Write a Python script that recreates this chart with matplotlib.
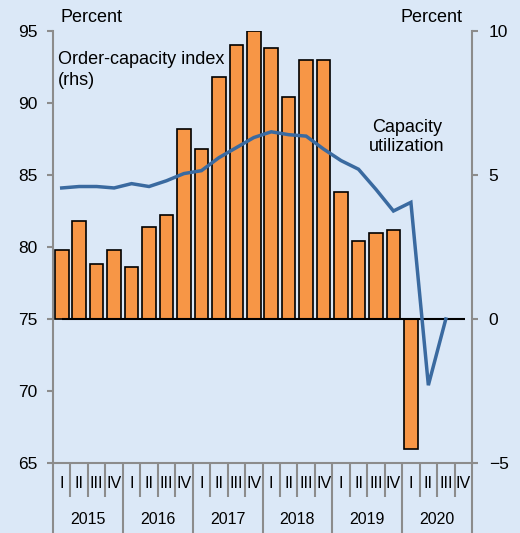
import numpy as np
import matplotlib.pyplot as plt
from matplotlib.transforms import blended_transform_factory

plt.rcParams['font.family'] = ['Liberation Sans', 'DejaVu Sans']

years = ['2015', '2016', '2017', '2018', '2019', '2020']
quarters = ['I', 'II', 'III', 'IV']

# Order-capacity index (rhs), None = no data
order_capacity = [2.4, 3.4, 1.9, 2.4, 1.8, 3.2, 3.6, 6.6,
                  5.9, 8.4, 9.5, 10.0, 9.4, 7.7, 9.0, 9.0,
                  4.4, 2.7, 3.0, 3.1, -4.5, None, None, None]

# Capacity utilization (lhs)
capacity_util = [84.1, 84.2, 84.2, 84.1, 84.4, 84.2, 84.6, 85.1,
                 85.3, 86.2, 86.9, 87.6, 88.0, 87.8, 87.7, 86.8,
                 86.0, 85.4, 84.0, 82.5, 83.1, 70.4, 75.0, None]

bg = '#dbe8f7'
grey = '#8c8c8c'
bar_col = '#f79646'
line_col = '#3a6aa0'

fig = plt.figure(figsize=(5.2, 5.33), dpi=100, facecolor=bg)
ax = fig.add_axes([53/520, 1-463/533, 419/520, 432/533])
ax2 = ax.twinx()

n = len(order_capacity)
x = np.arange(n) + 0.5

bx = [xi for xi, v in zip(x, order_capacity) if v is not None]
bv = [v for v in order_capacity if v is not None]
ax2.bar(bx, bv, width=0.78, color=bar_col, edgecolor='black', linewidth=1.2)
ax2.hlines(0, 0.5, 23.6, color='black', linewidth=1.5)
ax2.set_ylim(-5, 10)
ax2.set_yticks([-5, 0, 5, 10])

lx = [xi for xi, v in zip(x, capacity_util) if v is not None]
lv = [v for v in capacity_util if v is not None]
ax.plot(lx, lv, color=line_col, linewidth=2.5, solid_joinstyle='miter')
ax.set_ylim(65, 95)
ax.set_yticks([65, 70, 75, 80, 85, 90, 95])
ax.set_xlim(0, n)

ax.set_zorder(ax2.get_zorder() + 1)
ax.patch.set_visible(False)
ax2.patch.set_visible(False)

for a in (ax, ax2):
    for s in a.spines.values():
        s.set_visible(False)
ax.spines['left'].set_visible(True)
ax.spines['left'].set_color(grey)
ax.spines['left'].set_linewidth(1.5)
ax.spines['bottom'].set_visible(True)
ax.spines['bottom'].set_color(grey)
ax.spines['bottom'].set_linewidth(1.5)
ax2.spines['right'].set_visible(True)
ax2.spines['right'].set_color(grey)
ax2.spines['right'].set_linewidth(1.5)

ax.tick_params(axis='y', direction='out', length=4, width=1.5, color=grey,
               labelsize=12.5, pad=7)
ax2.tick_params(axis='y', direction='out', length=4, width=1.5, color=grey,
                labelsize=12.5, pad=8)

# quarter and year separators below the axis
ax.set_xticks(np.arange(0, n + 1, 4))
ax.set_xticks(np.arange(0, n + 1), minor=True)
ax.tick_params(axis='x', which='major', direction='out', length=51, width=1.5,
               color=grey, labelbottom=False)
ax.tick_params(axis='x', which='minor', direction='out', length=24.5, width=1.5,
               color=grey, labelbottom=False)

tr = blended_transform_factory(ax.transData, ax.transAxes)
for i in range(n):
    ax.text(x[i], -0.047, quarters[i % 4], transform=tr, ha='center',
            va='center', fontsize=11.5, clip_on=False)
for j, yr in enumerate(years):
    ax.text(j * 4 + 2, -0.131, yr, transform=tr, ha='center', va='center',
            fontsize=11.5, clip_on=False)

fig.text(92/520, 1-17/533, 'Percent', ha='center', va='center', fontsize=13)
fig.text(432/520, 1-17/533, 'Percent', ha='center', va='center', fontsize=13)
fig.text(58/520, 1-51/533, 'Order-capacity index\n(rhs)', ha='left', va='top',
         fontsize=13, linespacing=1.3)
fig.text(407/520, 1-137/533, 'Capacity\nutilization', ha='center',
         va='center', fontsize=13, linespacing=1.2)

fig.savefig('out.png', dpi=100, facecolor=bg)
